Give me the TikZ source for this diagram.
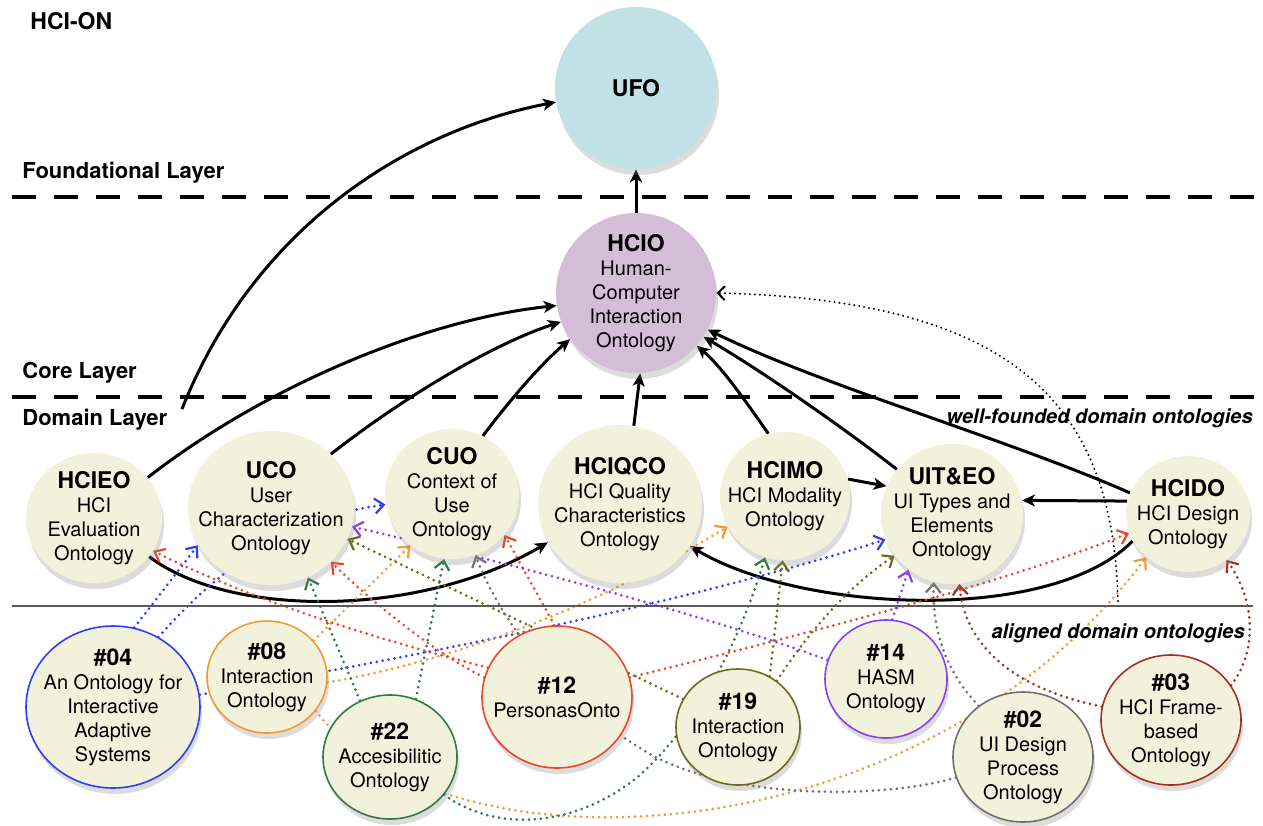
\documentclass[tikz,border=0pt]{standalone}
\usepackage{fontspec}
\setmainfont{TeX Gyre Heros}
\usetikzlibrary{shapes.geometric,arrows.meta,shadows,backgrounds}

\definecolor{beige}{HTML}{F2F1DC}
\definecolor{ufoblue}{HTML}{C2E1E6}
\definecolor{hciomauve}{HTML}{D4BDD7}
\definecolor{cblue}{HTML}{2E3EF0}
\definecolor{corange}{HTML}{F29A30}
\definecolor{cgreen}{HTML}{2F7A48}
\definecolor{cred}{HTML}{E8482E}
\definecolor{colive}{HTML}{6E6A1E}
\definecolor{cpurple}{HTML}{8A3EF2}
\definecolor{cgray}{HTML}{707070}
\definecolor{cdarkred}{HTML}{A63020}

\newcommand{\onttitle}[1]{{\fontsize{11.5}{12}\selectfont\bfseries #1}}

\begin{document}
\begin{tikzpicture}[x=0.5pt,y=-0.5pt,
  onto/.style={ellipse, inner sep=0pt, fill=beige,
    drop shadow={opacity=0.28, shadow xshift=1pt, shadow yshift=-3pt}},
  aligned/.style={onto, draw=#1, line width=0.8pt},
  txt/.style={align=center, inner sep=0pt, font=\fontsize{10}{12}\selectfont},
  layerlabel/.style={anchor=west, inner sep=0pt, font=\fontsize{11}{13}\selectfont\bfseries},
  grouplabel/.style={anchor=east, inner sep=0pt, font=\fontsize{10}{12}\selectfont\bfseries\itshape},
  layerline/.style={line width=2pt, dash pattern=on 12pt off 9pt},
  blk/.style={line width=1.5pt, -{Stealth[length=6.5pt,width=6pt,inset=1.8pt]}},
  blkdot/.style={line width=1.1pt, line cap=round, dash pattern=on 0pt off 2.5pt,
    -{Straight Barb[length=3.5pt,width=7pt,line width=1pt]}},
  dotarrow/.style={draw=#1, line width=1.5pt, line cap=round, dash pattern=on 0pt off 3pt,
    -{Straight Barb[length=4.5pt,width=7.5pt,line width=1.1pt]}}
]
\useasboundingbox (0,0) rectangle (1263,825);

% layer titles and separators
\node[layerlabel, font=\fontsize{11.5}{13}\selectfont\bfseries] (hcion) at (30,21) {HCI-ON};
\node[layerlabel] (foundlbl) at (22,173) {Foundational Layer};
\node[layerlabel] (corelbl) at (22,373) {Core Layer};
\node[layerlabel] (domlbl) at (22,420) {Domain Layer};
\node[grouplabel] (wflbl) at (1253,418) {well-founded domain ontologies};
\node[grouplabel] (allbl) at (1245,633) {aligned domain ontologies};

\coordinate (fl0) at (12,197);  \coordinate (fl1) at (1256,197);
\coordinate (cl0) at (12,397);  \coordinate (cl1) at (1256,397);
\coordinate (sl0) at (12,606);  \coordinate (sl1) at (1253,606);
\draw[layerline] (fl0) -- (fl1);
\draw[layerline] (cl0) -- (cl1);
\draw[line width=0.8pt, black!65] (sl0) -- (sl1);

\coordinate (dlroot) at (182,409);
\coordinate (alroot) at (1118,606);

% foundational and core ontologies
\node[onto, fill=ufoblue, minimum width=81pt, minimum height=81pt,
  label={[txt]center:{\onttitle{UFO}}}] (ufo) at (636,88) {};
\node[onto, fill=hciomauve, minimum width=80pt, minimum height=80pt,
  label={[txt]center:{\onttitle{HCIO}\\Human-\\Computer\\Interaction\\Ontology}}] (hcio) at (636,293) {};

% well-founded domain ontologies
\node[onto, minimum width=68pt, minimum height=65pt,
  label={[txt]center:{\onttitle{HCIEO}\\HCI\\Evaluation\\Ontology}}] (hcieo) at (94,518) {};
\node[onto, minimum width=83pt, minimum height=77pt,
  label={[txt]center:{\onttitle{UCO}\\User\\Characterization\\Ontology}}] (uco) at (271,508) {};
\node[onto, minimum width=67pt, minimum height=65pt,
  label={[txt]center:{\onttitle{CUO}\\Context of\\Use\\Ontology}}] (cuo) at (452,494) {};
\node[onto, minimum width=82pt, minimum height=79pt,
  label={[txt]center:{\onttitle{HCIQCO}\\HCI Quality\\Characteristics\\Ontology}}] (hciqco) at (620,504) {};
\node[onto, minimum width=65pt, minimum height=64pt,
  label={[txt]center:{\onttitle{HCIMO}\\HCI Modality\\Ontology}}] (hcimo) at (785,496) {};
\node[onto, minimum width=71pt, minimum height=70pt,
  label={[txt]center:{\onttitle{UIT\&EO}\\UI Types and\\Elements\\Ontology}}] (uit) at (952,514) {};
\node[onto, minimum width=62pt, minimum height=58pt,
  label={[txt]center:{\onttitle{HCIDO}\\HCI Design\\Ontology}}] (hcido) at (1188,514) {};

% aligned domain ontologies
\node[aligned=cblue, minimum width=87pt, minimum height=81pt,
  label={[txt]center:{\onttitle{\#04}\\An Ontology for\\Interactive\\Adaptive\\Systems}}] (n04) at (113,707) {};
\node[aligned=corange, minimum width=60pt, minimum height=56pt,
  label={[txt]center:{\onttitle{\#08}\\Interaction\\Ontology}}] (n08) at (267,677) {};
\node[aligned=cgreen, minimum width=67pt, minimum height=62pt,
  label={[txt]center:{\onttitle{\#22}\\Accesibilitic\\Ontology}}] (n22) at (390,757) {};
\node[aligned=cred, minimum width=75pt, minimum height=71pt,
  label={[txt]center:{\onttitle{\#12}\\PersonasOnto}}] (n12) at (557,697) {};
\node[aligned=colive, minimum width=62pt, minimum height=58pt,
  label={[txt]center:{\onttitle{\#19}\\Interaction\\Ontology}}] (n19) at (738,727) {};
\node[aligned=cpurple, minimum width=61pt, minimum height=59pt,
  label={[txt]center:{\onttitle{\#14}\\HASM\\Ontology}}] (n14) at (886,679) {};
\node[aligned=cgray, minimum width=70pt, minimum height=65pt,
  label={[txt]center:{\onttitle{\#02}\\UI Design\\Process\\Ontology}}] (n02) at (1023,757) {};
\node[aligned=cdarkred, minimum width=70pt, minimum height=65pt,
  label={[txt]center:{\onttitle{\#03}\\HCI Frame-\\based\\Ontology}}] (n03) at (1171,720) {};

\begin{scope}[on background layer]
  % grounding in the foundational and core ontologies
  \draw[blk] (dlroot) .. controls (255,225) and (410,130) .. (ufo.190);
  \draw[blk] (hcio.north) -- (ufo.south);
  \draw[blk] (hcieo.37) .. controls (260,390) and (420,320) .. (hcio.189);
  \draw[blk] (uco.42) .. controls (400,400) and (490,345) .. (hcio.201);
  \draw[blk] (cuo.62) .. controls (510,400) and (540,365) .. (hcio.215);
  \draw[blk] (hciqco.80) -- (hcio.273);
  \draw[blk] (hcimo.105) .. controls (745,400) and (720,365) .. (hcio.319);
  \draw[blk] (uit.141) .. controls (840,425) and (760,370) .. (hcio.327);
  \draw[blk] (hcido.160) .. controls (1010,440) and (820,385) .. (hcio.333);
  \draw[blkdot] (alroot) .. controls (1115,400) and (1010,300) .. (hcio.0);

  % relations among well-founded domain ontologies
  \draw[blk] (hcimo.15) -- (uit.157);
  \draw[blk] (hcido.168) -- (uit.11);
  \draw[blk] (hcieo.325) .. controls (230,618) and (420,618) .. (hciqco.208);
  \draw[blk] (hcido.206) .. controls (1050,625) and (800,612) .. (hciqco.329);

  % alignments: #04
  \draw[dotarrow=cblue] (n04.75) -- (uco.207);
  \draw[dotarrow=cblue] (n04.57) .. controls (240,545) and (310,515) .. (cuo.189);
  \draw[dotarrow=cblue] (n04.8) .. controls (420,655) and (680,605) .. (uit.201);
  % #08
  \draw[dotarrow=corange] (n08.38) -- (cuo.231);
  \draw[dotarrow=corange] (n08.355) .. controls (460,660) and (610,600) .. (hcimo.208);
  \draw[dotarrow=corange] (n08.325) .. controls (450,880) and (920,860) .. (hcido.226);
  % #22
  \draw[dotarrow=cgreen] (n22.118) -- (uco.298);
  \draw[dotarrow=cgreen] (n22.66) -- (cuo.263);
  \draw[dotarrow=cgreen] (n22.325) .. controls (500,835) and (580,825) .. (640,775)
        .. controls (700,720) and (740,640) .. (hcimo.252);
  % #12
  \draw[dotarrow=cred] (n12.157) .. controls (380,640) and (250,600) .. (hcieo.331);
  \draw[dotarrow=cred] (n12.165) .. controls (430,650) and (370,600) .. (uco.318);
  \draw[dotarrow=cred] (n12.92) -- (cuo.322);
  \draw[dotarrow=cred] (n12.15) .. controls (780,640) and (1000,585) .. (hcido.198);
  % #19
  \draw[dotarrow=colive] (n19.153) -- (uco.338);
  \draw[dotarrow=colive] (n19.58) -- (hcimo.268);
  \draw[dotarrow=colive] (n19.50) .. controls (810,630) and (850,585) .. (uit.216);
  % #14
  \draw[dotarrow=cpurple] (n14.162) .. controls (720,620) and (520,565) .. (uco.347);
  \draw[dotarrow=cpurple] (n14.84) -- (uit.232);
  % #02
  \draw[dotarrow=cgray] (n02.131) .. controls (945,670) and (932,630) .. (uit.255);
  \draw[dotarrow=cgray] (n02.197) .. controls (880,800) and (720,800) .. (640,748)
        .. controls (560,700) and (500,620) .. (cuo.291);
  % #03
  \draw[dotarrow=cdarkred] (n03.169) .. controls (1020,690) and (965,650) .. (uit.276);
  \draw[dotarrow=cdarkred] (n03.30) .. controls (1258,650) and (1255,600) .. (hcido.310);
\end{scope}
\end{tikzpicture}
\end{document}
